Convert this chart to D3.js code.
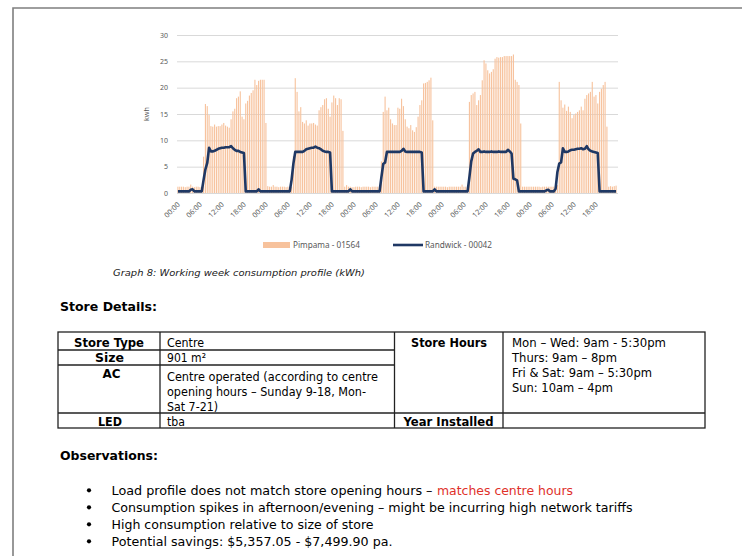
<!DOCTYPE html>
<html><head><meta charset="utf-8">
<script src="https://cdn.jsdelivr.net/npm/d3@7"></script>
<style>html,body{margin:0;padding:0;background:#fff}svg{display:block}</style>
</head><body>
<svg id="c" width="742" height="556"></svg>
<script>
// ---------- chart data (half-hourly, 5 days) ----------
const tickLabels = ["00:00","06:00","12:00","18:00","00:00","06:00","12:00","18:00","00:00","06:00",
                    "12:00","18:00","00:00","06:00","12:00","18:00","00:00","06:00","12:00","18:00"];
const yTicks = [0,5,10,15,20,25,30];
const seriesNames = ["Pimpama - 01564","Randwick - 00042"];

const pimpama = [
 // day 1
 1.2,1.2,1.2,1.2,1.1,1.2,1.2,1.6,1.2,1.1,1.2,1.2,1.1,1.2,
 6.9,16.9,16.5,14.8,12.7,12.6,13.0,12.6,12.7,12.7,13.0,13.3,12.8,12.6,12.4,14.0,15.5,16.0,18.0,18.3,19.3,14.5,14.0,17.0,17.5,18.5,19.0,19.5,21.5,20.5,21.3,21.5,21.5,21.5,
 // day 2
 13.3,1.3,1.2,1.2,1.5,1.2,1.2,1.1,1.2,1.2,1.2,1.1,1.2,1.2,1.2,
 7.0,21.8,19.2,15.5,16.3,13.5,13.2,13.8,12.8,13.2,13.2,13.3,13.0,12.8,15.7,16.3,16.7,17.8,18.0,16.0,14.5,17.2,18.5,18.0,16.7,18.0,17.8,11.8,
 1.2,1.5,1.2,1.2,1.1,
 // day 3
 1.1,1.2,1.2,1.2,1.1,1.2,1.2,1.2,1.2,1.1,1.2,1.2,1.2,1.2,1.2,
 6.0,
 15.4,18.3,15.7,16.2,14.0,13.2,12.9,12.9,16.2,16.0,17.9,16.5,14.0,12.6,12.3,12.9,11.9,11.6,12.5,14.5,16.7,17.6,20.8,20.9,21.1,21.4,21.9,13.8,
 1.2,1.2,1.2,1.2,
 // day 4
 1.2,1.2,1.2,1.1,1.2,1.2,1.2,1.2,1.2,1.2,1.2,1.6,1.2,1.2,1.2,
 17.3,18.6,18.9,19.2,16.7,17.6,18.6,21.4,25.2,24.6,23.3,22.7,23.0,23.5,25.5,25.8,25.7,25.8,25.8,26.0,26.0,26.0,26.0,26.0,26.3,21.5,21.1,20.5,13.2,
 1.2,1.2,1.2,1.2,
 // day 5
 1.2,1.2,1.2,1.2,1.2,1.2,1.1,1.2,1.2,1.2,1.2,1.2,1.2,1.2,1.2,
 1.5,
 21.1,17.6,16.2,16.8,15.6,16.4,15.4,14.2,14.8,15.1,15.4,15.7,16.4,15.7,17.9,18.6,18.9,19.2,21.1,18.3,18.6,17.0,19.2,19.8,20.5,21.1,12.6,
 1.2,1.3,1.2,1.3,1.4
];

const randwick = [
 // day 1
 0.3,0.3,0.3,0.3,0.3,0.3,0.3,0.6,0.7,0.3,0.3,0.3,0.3,0.3,
 2.5,4.5,5.7,8.6,7.9,7.9,8.0,8.2,8.4,8.5,8.6,8.6,8.7,8.7,8.7,8.9,8.5,8.2,8.0,8.0,7.8,7.7,7.6,
 0.3,0.3,0.3,0.3,0.3,0.3,0.3,0.7,0.3,0.3,0.3,
 // day 2
 0.3,0.3,0.3,0.3,0.3,0.3,0.3,0.3,0.3,0.3,0.3,0.3,0.3,0.3,
 2.5,5.6,7.8,7.8,7.8,7.8,7.8,8.0,8.3,8.4,8.5,8.6,8.6,8.8,8.6,8.5,8.3,8.0,7.9,7.8,7.8,7.7,
 0.3,0.3,0.3,0.3,0.3,0.3,0.3,0.3,0.3,0.3,0.7,0.3,
 // day 3
 0.3,0.3,0.3,0.3,0.3,0.3,0.3,0.3,0.3,0.3,0.3,0.3,0.3,0.3,0.3,
 3.0,5.5,5.8,7.8,7.8,7.8,7.8,7.8,7.8,7.8,7.8,8.0,8.4,7.9,7.8,7.8,7.8,7.8,7.8,7.8,7.8,7.8,7.7,
 0.3,0.3,0.3,0.3,0.3,0.3,0.7,0.3,0.3,0.3,
 // day 4
 0.3,0.3,0.3,0.3,0.3,0.3,0.3,0.3,0.3,0.3,0.3,0.3,0.3,0.3,0.3,
 3.0,6.0,7.5,7.8,8.0,8.3,7.8,7.8,7.9,7.8,7.8,7.8,7.9,7.8,7.8,7.8,7.9,7.8,7.8,7.8,7.8,8.2,7.9,7.5,2.7,2.6,2.4,
 0.3,0.3,0.3,0.3,0.3,0.3,
 // day 5
 0.3,0.3,0.3,0.3,0.3,0.3,0.3,0.3,0.3,0.5,0.6,0.3,0.3,0.3,0.8,
 4.0,5.6,5.8,8.5,7.8,7.8,7.9,8.1,8.2,8.2,8.3,8.4,8.4,8.5,8.3,8.4,8.9,8.3,8.0,7.9,7.8,7.7,7.6,
 0.3,0.3,0.3,0.3,0.3,0.3,0.3,0.3,0.3,0.3
];

const slots = d3.range(pimpama.length);

// ---------- document text ----------
const caption = "Graph 8: Working week consumption profile (kWh)";
const storeHeading = "Store Details:";
const obsHeading = "Observations:";

const svg = d3.select("#c");
svg.append("rect").attr("width",742).attr("height",556).attr("fill","#fff");
svg.append("path").attr("d","M13,570V8H760").attr("fill","none").attr("stroke","#7f7f7f").attr("stroke-width",1.6);

const chartFont = "'Noto Sans', 'Open Sans', sans-serif";
const docFont = "'DejaVu Sans', Verdana, sans-serif";

const x = d3.scaleBand().domain(slots).range([177,617]).paddingInner(0.4).paddingOuter(0.2);
const y = d3.scaleLinear().domain([0,30]).range([193,35]);
const bw = x.bandwidth();

// grid + y labels
const gy = svg.append("g").attr("transform","translate(177,0)")
  .call(d3.axisLeft(y).tickValues(yTicks).tickSize(-441).tickPadding(9));
gy.select(".domain").remove();
gy.selectAll(".tick line").attr("stroke","#d9d9d9").attr("stroke-width",1);
gy.selectAll(".tick text").attr("fill","#595959").attr("font-size",7).attr("font-family",chartFont);

svg.append("text").attr("transform","translate(149,114) rotate(-90)")
  .attr("text-anchor","middle").attr("font-size",7.2).attr("fill","#595959")
  .attr("font-family",chartFont).text("kwh");

// bars
svg.append("g").selectAll("rect").data(slots).join("rect")
  .attr("x",i=>x(i)).attr("width",bw)
  .attr("y",i=>y(pimpama[i])).attr("height",i=>y(0)-y(pimpama[i]))
  .attr("fill","#f7c29c");

// x axis
const tickSlots = slots.filter(i=>i%12===0);
const gx = svg.append("g").attr("transform","translate(0,193)")
  .call(d3.axisBottom(x).tickValues(tickSlots).tickFormat((d,i)=>tickLabels[i]).tickSize(0));
gx.select(".domain").attr("stroke","#d9d9d9");
gx.selectAll(".tick text").attr("fill","#595959").attr("font-size",7.3).attr("font-family",chartFont)
  .attr("text-anchor","end").attr("y",0).attr("dy",0)
  .attr("transform","translate(2.5,12) rotate(-45)");

// line
const line = d3.line().x(i=>x(i)+bw/2).y(i=>y(randwick[i]));
svg.append("path").datum(slots).attr("d",line).attr("fill","none")
  .attr("stroke","#1f3864").attr("stroke-width",2.6).attr("stroke-linejoin","round");

// legend
const lg = svg.append("g").attr("font-family",chartFont).attr("font-size",8.2).attr("fill","#595959");
lg.append("rect").attr("x",263).attr("y",242).attr("width",27).attr("height",6).attr("fill","#f7c29c");
lg.append("text").attr("x",293).attr("y",248).text(seriesNames[0]);
lg.append("line").attr("x1",393).attr("x2",423).attr("y1",245).attr("y2",245).attr("stroke","#1f3864").attr("stroke-width",2.6);
lg.append("text").attr("x",425).attr("y",248).text(seriesNames[1]);

// caption
svg.append("text").attr("x",113).attr("y",276).attr("font-family",docFont).attr("font-style","italic")
  .attr("font-size",9.4).attr("fill","#1a1a1a").attr("textLength",252).attr("lengthAdjust","spacingAndGlyphs").text(caption);

// headings
svg.append("text").attr("x",60).attr("y",311).attr("font-family",docFont).attr("font-weight","bold")
  .attr("font-size",12.8).attr("fill","#000").attr("textLength",97).attr("lengthAdjust","spacingAndGlyphs").text(storeHeading);
svg.append("text").attr("x",60).attr("y",460).attr("font-family",docFont).attr("font-weight","bold")
  .attr("font-size",12.8).attr("fill","#000").attr("textLength",98).attr("lengthAdjust","spacingAndGlyphs").text(obsHeading);

// table
const T = svg.append("g").attr("stroke","#222").attr("stroke-width",1.3).attr("fill","none");
T.append("rect").attr("x",58).attr("y",332).attr("width",647).attr("height",96);
[[160,332,160,428],[394.5,332,394.5,428],[503,332,503,428],
 [58,350,394.5,350],[58,365,394.5,365],[58,413,705,413]].forEach(l=>
  T.append("line").attr("x1",l[0]).attr("y1",l[1]).attr("x2",l[2]).attr("y2",l[3]));

const cells = [
 {t:"Store Type",x:109,y:346.5,b:true,w:70,a:"middle"},
 {t:"Size",x:109.5,y:362,b:true,w:29,a:"middle"},
 {t:"AC",x:111.5,y:377.5,b:true,w:18,a:"middle"},
 {t:"LED",x:110,y:426,b:true,w:24,a:"middle"},
 {t:"Centre",x:167,y:346.5,w:37},
 {t:"901 m²",x:167,y:362,w:39},
 {t:"Centre operated (according to centre",x:167,y:380.5,w:211},
 {t:"opening hours – Sunday 9-18, Mon-",x:167,y:395.5,w:199},
 {t:"Sat 7-21)",x:167,y:410.5,w:51},
 {t:"tba",x:167,y:426,w:18},
 {t:"Store Hours",x:449,y:346.5,b:true,w:76,a:"middle"},
 {t:"Year Installed",x:448.5,y:425.5,b:true,w:90,a:"middle"},
 {t:"Mon – Wed: 9am - 5:30pm",x:512,y:346.5,w:154},
 {t:"Thurs: 9am – 8pm",x:512,y:361.5,w:105},
 {t:"Fri & Sat: 9am – 5:30pm",x:512,y:376.5,w:140},
 {t:"Sun: 10am – 4pm",x:512,y:391.5,w:101}
];
svg.append("g").selectAll("text").data(cells).join("text")
  .attr("x",d=>d.x).attr("y",d=>d.y).attr("text-anchor",d=>d.a||"start")
  .attr("font-family",docFont).attr("font-size",11.8).attr("font-weight",d=>d.b?"bold":"normal")
  .attr("fill","#000").attr("textLength",d=>d.w).attr("lengthAdjust","spacingAndGlyphs").text(d=>d.t);

// observations
const obs = [
 {t:"Load profile does not match store opening hours –",y:494.5,w:321},
 {t:"Consumption spikes in afternoon/evening – might be incurring high network tariffs",y:511.5,w:521},
 {t:"High consumption relative to size of store",y:528.5,w:262},
 {t:"Potential savings: $5,357.05 - $7,499.90 pa.",y:545.5,w:281}
];
const og = svg.append("g").attr("font-family",docFont).attr("font-size",12).attr("fill","#000");
og.selectAll("text.l").data(obs).join("text").attr("class","l")
  .attr("x",111.5).attr("y",d=>d.y).attr("textLength",d=>d.w).attr("lengthAdjust","spacingAndGlyphs").text(d=>d.t);
og.selectAll("circle").data(obs).join("circle").attr("cx",89).attr("cy",d=>d.y-4.2).attr("r",2.1).attr("fill","#000");
og.append("text").attr("x",437).attr("y",494.5).attr("fill","#e0302a").attr("textLength",136)
  .attr("lengthAdjust","spacingAndGlyphs").text("matches centre hours");
</script>
</body></html>
